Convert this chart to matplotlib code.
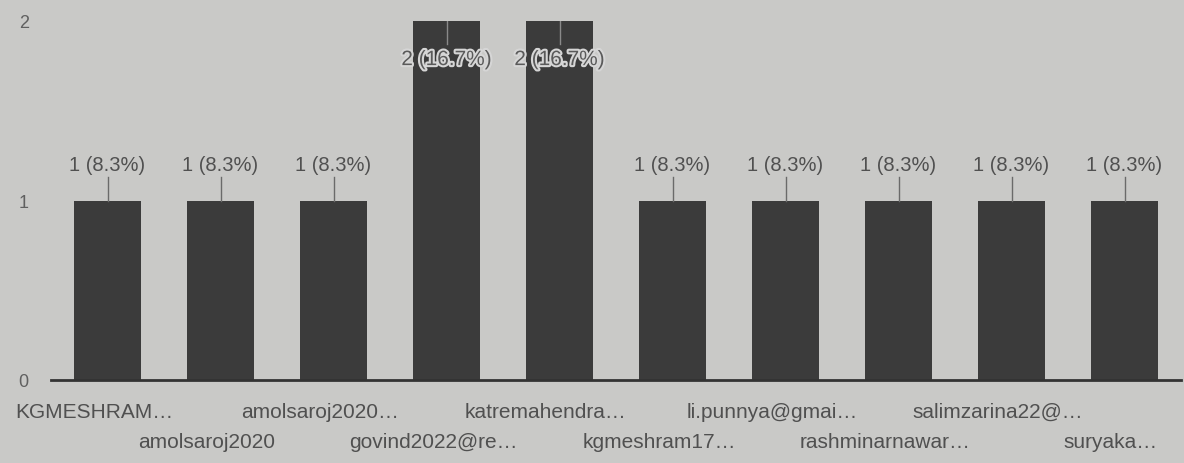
import matplotlib
matplotlib.use("Agg")
import matplotlib.pyplot as plt
import matplotlib.patheffects as pe

categories = ["KGMESHRAM…", "amolsaroj2020", "amolsaroj2020…", "govind2022@re…",
              "katremahendra…", "kgmeshram17…", "li.punnya@gmai…", "rashminarnawar…",
              "salimzarina22@…", "suryaka…"]
values = [1, 1, 1, 2, 2, 1, 1, 1, 1, 1]
percents = ["8.3%", "8.3%", "8.3%", "16.7%", "16.7%", "8.3%", "8.3%", "8.3%", "8.3%", "8.3%"]
yticks = [0, 1, 2]

bg = "#c9c9c7"
bar_c = "#3b3b3b"
txt_c = "#505050"
font = ["Liberation Sans", "DejaVu Sans"]

fig = plt.figure(figsize=(11.84, 4.64), dpi=100, facecolor=bg)
ax = fig.add_axes([51 / 1184, 83 / 464, 1130 / 1184, 359 / 464])
ax.set_facecolor(bg)

x = list(range(len(categories)))
ax.bar(x, values, width=0.6, color=bar_c, zorder=2)
ax.set_xlim(-0.5, len(categories) - 0.5)
ax.set_ylim(0, 2)

for s in ["top", "right", "left"]:
    ax.spines[s].set_visible(False)
ax.spines["bottom"].set_color("#333333")
ax.spines["bottom"].set_linewidth(2)
ax.spines["bottom"].set_zorder(3)

ax.set_yticks(yticks)
ax.set_yticklabels([str(t) for t in yticks], family=font, fontsize=13, color="#606060")
ax.tick_params(axis="y", length=0, pad=16)
ax.tick_params(axis="x", length=0)
ax.set_xticks([])

# x labels in two staggered rows
for i, lab in enumerate(categories):
    yoff = -0.175 if i % 2 == 0 else -0.34
    ax.text(i - 0.12, yoff, lab, ha="center", va="center", family=font, fontsize=15,
            color=txt_c, clip_on=False)

# value labels
for i, (v, p) in enumerate(zip(values, percents)):
    lab = f"{v} ({p})"
    if v == 2:
        ax.plot([i, i], [v, v - 0.13], color="#8a8a8a", lw=1, zorder=3)
        ax.text(i, v - 0.215, lab, ha="center", va="center", family=font, fontsize=15,
                color="#5a5a5a", zorder=4,
                path_effects=[pe.withStroke(linewidth=3, foreground="#d6d6d6")])
    else:
        ax.plot([i, i], [v, v + 0.13], color="#6a6a6a", lw=1, zorder=3)
        ax.text(i, v + 0.2, lab, ha="center", va="center", family=font, fontsize=14.5,
                color=txt_c, zorder=4)

fig.savefig("out.png", dpi=100, facecolor=bg)
